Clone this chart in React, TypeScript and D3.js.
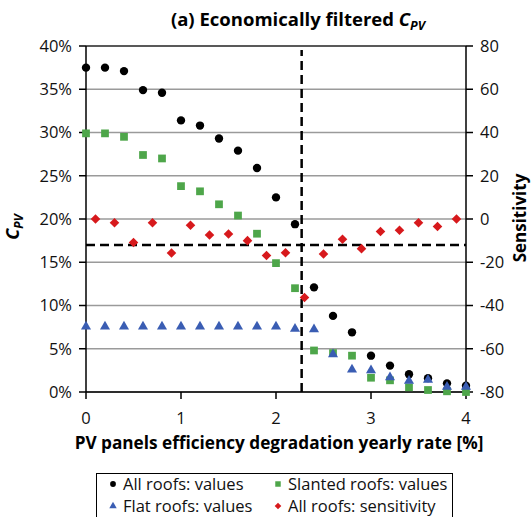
import React from 'react';
import * as d3 from 'd3';

// degradation yearly rate [%] for the value series
const rates = [0, 0.2, 0.4, 0.6, 0.8, 1.0, 1.2, 1.4, 1.6, 1.8, 2.0, 2.2, 2.4, 2.6, 2.8, 3.0, 3.2, 3.4, 3.6, 3.8, 4.0];
// sensitivity sits between consecutive rates
const sensRates = [0.1, 0.3, 0.5, 0.7, 0.9, 1.1, 1.3, 1.5, 1.7, 1.9, 2.1, 2.3, 2.5, 2.7, 2.9, 3.1, 3.3, 3.5, 3.7, 3.9];

const allRoofs = [37.5, 37.5, 37.1, 34.9, 34.6, 31.4, 30.8, 29.3, 27.9, 25.9, 22.5, 19.4, 12.1, 8.8, 6.9, 4.2, 3.05, 2.05, 1.6, 1.0, 0.73];
const slantedRoofs = [29.9, 29.9, 29.5, 27.4, 27.0, 23.8, 23.2, 21.7, 20.4, 18.3, 14.9, 12.0, 4.8, 4.5, 4.2, 1.65, 1.35, 0.54, 0.23, 0.08, 0.0];
const flatRoofs = [7.55, 7.55, 7.55, 7.55, 7.55, 7.55, 7.55, 7.55, 7.55, 7.55, 7.55, 7.3, 7.25, 4.35, 2.6, 2.5, 1.7, 1.3, 1.4, 0.6, 0.6];
const sensitivity = [0, -1.7, -10.9, -1.7, -15.7, -2.9, -7.4, -6.9, -10.0, -16.9, -15.6, -36.3, -16.2, -9.4, -13.7, -5.8, -5.2, -1.7, -3.5, 0];

const thresholdRate = 2.27;
const thresholdSens = -12;

const leftTicks = [0, 5, 10, 15, 20, 25, 30, 35, 40];
const rightTicks = [-80, -60, -40, -20, 0, 20, 40, 60, 80];
const xTicks = [0, 1, 2, 3, 4];

const legendItems = [
  { label: 'All roofs: values', color: '#000000', shape: 'circle' },
  { label: 'Slanted roofs: values', color: '#4ea64a', shape: 'square' },
  { label: 'Flat roofs: values', color: '#3a5db3', shape: 'triangle' },
  { label: 'All roofs: sensitivity', color: '#d7191c', shape: 'diamond' },
];

const FONT = '"Open Sans", sans-serif';

const App: React.FC = () => {
  const width = 531;
  const height = 517;
  const left = 86, right = 466, top = 46, bottom = 392;

  const x = d3.scaleLinear().domain([0, 4]).range([left, right]);
  const yL = d3.scaleLinear().domain([0, 40]).range([bottom, top]);
  const yR = d3.scaleLinear().domain([-80, 80]).range([bottom, top]);

  const circle = d3.symbol().type(d3.symbolCircle).size(55)()!;
  const square = d3.symbol().type(d3.symbolSquare).size(60)()!;
  const triangle = d3.symbol().type(d3.symbolTriangle).size(44)()!;
  const diamond = d3.symbol().type(d3.symbolSquare).size(46)()!;

  const small: Record<string, string> = {
    circle: d3.symbol().type(d3.symbolCircle).size(26)()!,
    square: d3.symbol().type(d3.symbolSquare).size(30)()!,
    triangle: d3.symbol().type(d3.symbolTriangle).size(24)()!,
    diamond: d3.symbol().type(d3.symbolSquare).size(22)()!,
  };

  return (
    <svg width={width} height={height} style={{ position: 'absolute', left: 0, top: 0, background: '#fff' }} fontFamily={FONT}>
      {/* title */}
      <text x={298} y={26} textAnchor="middle" fontSize={18.5} fontWeight="bold">
        (a) Economically filtered <tspan fontStyle="italic">C</tspan>
        <tspan fontStyle="italic" fontSize={12.5} dy={4}>PV</tspan>
      </text>

      {/* gridlines */}
      {leftTicks.map(t => (
        <line key={t} x1={left} x2={right} y1={yL(t)} y2={yL(t)} stroke={t === 40 ? '#222' : '#9a9a9a'} strokeWidth={1.5} />
      ))}

      {/* axes */}
      <line x1={left} x2={left} y1={top} y2={bottom} stroke="#000" strokeWidth={1.5} />
      <line x1={right} x2={right} y1={top} y2={bottom} stroke="#000" strokeWidth={1.5} />
      <line x1={left} x2={right} y1={bottom} y2={bottom} stroke="#000" strokeWidth={1.5} />
      {leftTicks.map(t => (
        <g key={'l' + t}>
          <line x1={left - 7} x2={left} y1={yL(t)} y2={yL(t)} stroke="#000" strokeWidth={1.5} />
          <text x={72} y={yL(t)} dy="0.35em" textAnchor="end" fontSize={16.5} fill="#111">{t}%</text>
        </g>
      ))}
      {rightTicks.map(t => (
        <g key={'r' + t}>
          <line x1={right} x2={right + 7} y1={yR(t)} y2={yR(t)} stroke="#000" strokeWidth={1.5} />
          <text x={480} y={yR(t)} dy="0.35em" textAnchor="start" fontSize={16.5} fill="#111">{t}</text>
        </g>
      ))}
      {xTicks.map(t => (
        <g key={'x' + t}>
          <line x1={x(t)} x2={x(t)} y1={bottom} y2={bottom + 7} stroke="#000" strokeWidth={1.5} />
          <text x={x(t)} y={424} textAnchor="middle" fontSize={16.5} fill="#111">{t}</text>
        </g>
      ))}

      {/* axis titles */}
      <text x={279} y={449} textAnchor="middle" fontSize={17.2} fontWeight="bold">
        PV panels efficiency degradation yearly rate [%]
      </text>
      <text transform="translate(19,227) rotate(-90)" textAnchor="middle" fontSize={18} fontWeight="bold">
        <tspan fontStyle="italic">C</tspan>
        <tspan fontStyle="italic" fontSize={12} dy={4}>PV</tspan>
      </text>
      <text transform="translate(526,218) rotate(-90)" textAnchor="middle" fontSize={17} fontWeight="bold">
        Sensitivity
      </text>

      {/* threshold dashed lines */}
      <line x1={left} x2={right} y1={yR(thresholdSens)} y2={yR(thresholdSens)} stroke="#000" strokeWidth={2.5} strokeDasharray="9,5" />
      <line x1={x(thresholdRate)} x2={x(thresholdRate)} y1={bottom} y2={top + 4} stroke="#000" strokeWidth={2.5} strokeDasharray="9,5" />

      {/* series */}
      {allRoofs.map((v, i) => (
        <path key={'a' + i} d={circle} transform={`translate(${x(rates[i])},${yL(v)})`} fill="#000" />
      ))}
      {slantedRoofs.map((v, i) => (
        <path key={'s' + i} d={square} transform={`translate(${x(rates[i])},${yL(v)})`} fill="#4ea64a" />
      ))}
      {flatRoofs.map((v, i) => (
        <path key={'f' + i} d={triangle} transform={`translate(${x(rates[i])},${yL(v)})`} fill="#3a5db3" />
      ))}
      {sensitivity.map((v, i) => (
        <path key={'d' + i} d={diamond} transform={`translate(${x(sensRates[i])},${yR(v)}) rotate(45)`} fill="#d7191c" />
      ))}

      {/* legend */}
      <rect x={96.5} y={473.5} width={356} height={60} fill="#fff" stroke="#000" strokeWidth={1} />
      {legendItems.map((it, i) => {
        const col = i % 2, row = Math.floor(i / 2);
        const mx = col === 0 ? 113 : 278;
        const my = row === 0 ? 484 : 506;
        return (
          <g key={it.label}>
            <path d={small[it.shape]} transform={`translate(${mx},${my})${it.shape === 'diamond' ? ' rotate(45)' : ''}`} fill={it.color} />
            <text x={mx + 10} y={my + 6} fontSize={16.5} fill="#111">{it.label}</text>
          </g>
        );
      })}
    </svg>
  );
};

export default App;
